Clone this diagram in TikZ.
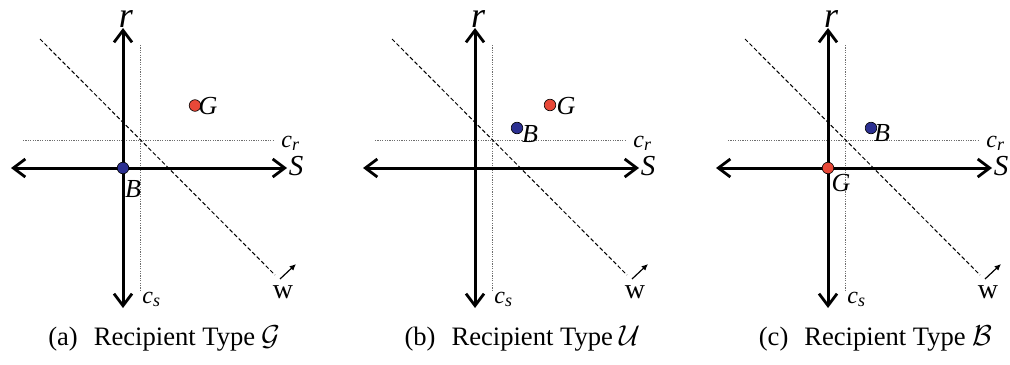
\documentclass[tikz,border=0pt]{standalone}
\usepackage{fontspec}
\setmainfont{Liberation Serif}
\usetikzlibrary{arrows.meta}
\definecolor{dotred}{RGB}{232,72,56}
\definecolor{dotblue}{RGB}{44,48,145}
\definecolor{thrgray}{RGB}{110,110,110}
\tikzset{
  barb/.tip={Straight Barb[length=6pt,width=9pt,line width=1.4pt]},
  axisline/.style={line width=1.5pt,{barb}-{barb}},
  thresh/.style={thrgray,line width=0.5pt,dash pattern=on 0.6pt off 0.6pt},
  boundary/.style={black,line width=0.5pt,dash pattern=on 2pt off 1.2pt},
  warrow/.style={line width=0.6pt,-{Latex[length=3.2pt,width=3pt]}},
  rlab/.style={inner sep=0pt,font=\fontsize{18}{18}\selectfont\itshape},
  slab/.style={inner sep=0pt,font=\fontsize{14.5}{14.5}\selectfont\itshape},
  wlab/.style={inner sep=0pt,font=\fontsize{14}{14}\selectfont},
  clab/.style={inner sep=0pt,font=\fontsize{12}{12}\selectfont\itshape},
  ptlab/.style={inner sep=0pt,font=\fontsize{13}{13}\selectfont\itshape},
  caplab/.style={inner sep=0pt,anchor=base,font=\fontsize{13.3}{13.3}\selectfont},
  reddot/.style={circle,inner sep=0pt,minimum size=5.8pt,draw=black,line width=0.3pt,fill=dotred},
  bluedot/.style={circle,inner sep=0pt,minimum size=5.8pt,draw=black,line width=0.3pt,fill=dotblue},
  quadrant/.pic={
    \coordinate (-o) at (0,0);
    \coordinate (-top) at (0,-140);
    \coordinate (-bot) at (0,140);
    \coordinate (-left) at (-112,0);
    \coordinate (-right) at (164,0);
    \coordinate (-cst) at (17,-123);
    \coordinate (-csb) at (17,124);
    \coordinate (-crl) at (-100,-28);
    \coordinate (-crr) at (151,-28);
    \coordinate (-d1) at (-83,-129);
    \coordinate (-d2) at (152,107);
    \coordinate (-w1) at (157,111);
    \coordinate (-w2) at (173,96);
    \draw[thresh] (-cst) -- (-csb);
    \draw[thresh] (-crl) -- (-crr);
    \draw[boundary] (-d1) -- (-d2);
    \draw[axisline] (-bot) -- (-top);
    \draw[axisline] (-left) -- (-right);
    \draw[warrow] (-w1) -- (-w2);
    \node[rlab] (-r) at (3,-149) {r};
    \node[slab] (-s) at (173,-2) {S};
    \node[wlab] (-w) at (160,124) {w};
    \node[clab,anchor=base west] (-cr) at (158,-21) {c\raisebox{-0.35ex}{\fontsize{9}{9}\selectfont r}};
    \node[clab,anchor=base west] (-cs) at (19,135) {c\raisebox{-0.35ex}{\fontsize{9}{9}\selectfont s}};
  }
}
\begin{document}
\begin{tikzpicture}[x=0.5pt,y=-0.5pt]
  \useasboundingbox (0,0) rectangle (1010,364);
  % panel (a)
  \pic (pa) at (123,168) {quadrant};
  \node[bluedot] (aB) at (123,168) {};
  \node[reddot] (aG) at (195,105.5) {};
  \node[ptlab] (aGl) at (208,106) {G};
  \node[ptlab] (aBl) at (133,189) {B};
  \node[caplab] (capa) at (164.5,345) {(a)\hspace{0.6em}Recipient Type $\mathcal{G}$};
  % panel (b)
  \pic (pb) at (475,168) {quadrant};
  \node[reddot] (bG) at (550,105) {};
  \node[bluedot] (bB) at (517,128) {};
  \node[ptlab] (bGl) at (566,106) {G};
  \node[ptlab] (bBl) at (530,134.5) {B};
  \node[caplab] (capb) at (522.5,345) {(b)\hspace{0.6em}Recipient Type $\mathcal{U}$};
  % panel (c)
  \pic (pc) at (828,168) {quadrant};
  \node[bluedot] (cB) at (871,128) {};
  \node[reddot] (cG) at (828,168) {};
  \node[ptlab] (cBl) at (882,133) {B};
  \node[ptlab] (cGl) at (841,183) {G};
  \node[caplab] (capc) at (875.5,345) {(c)\hspace{0.6em}Recipient Type $\mathcal{B}$};
\end{tikzpicture}
\end{document}
